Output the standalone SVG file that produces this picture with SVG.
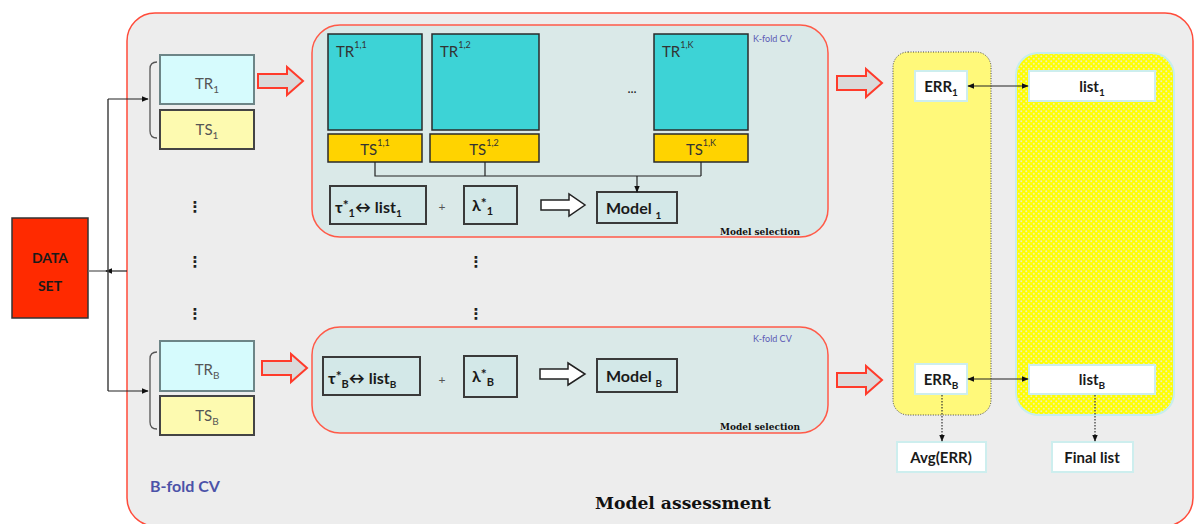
<svg xmlns="http://www.w3.org/2000/svg" width="1194" height="524" viewBox="0 0 1194 524">
<defs>
<style>
.t{font-family:Lato,"Open Sans","DejaVu Sans",sans-serif;}
.b{font-family:Lato,"Open Sans","DejaVu Sans",sans-serif;font-weight:bold;fill:#1a1a1a;}
.dots{font-family:"DejaVu Sans",sans-serif;font-weight:bold;font-size:15px;fill:#222;text-anchor:middle;}
.tr{fill:#d6fbfd;stroke:#6d8587;stroke-width:2;}
.ts{fill:#fdfab0;stroke:#444;stroke-width:2;}
.kt{fill:#3dd3d6;stroke:#2a2a2a;stroke-width:1.5;}
.ks{fill:#ffd300;stroke:#2a2a2a;stroke-width:1.5;}
.inner{fill:#dae9e8;stroke:#ff5a48;stroke-width:1.5;}
.sel{fill:#d3e8e8;stroke:#3a3a3a;stroke-width:2;}
.red{fill:#dadada;stroke:#ff3b2b;stroke-width:2;}
.hol{fill:#fff;stroke:#222;stroke-width:1.5;}
.wb{fill:#fff;stroke:#cdeeee;stroke-width:2;}
.ln{fill:none;stroke:#222;stroke-width:1.2;}
.kf{font-family:Lato,"Open Sans",sans-serif;font-size:9px;fill:#5a5ab4;}
.ms{font-family:"DejaVu Serif",serif;font-weight:bold;font-size:9px;fill:#111;text-anchor:end;}
</style>
<marker id="ah" viewBox="0 0 10 10" refX="9" refY="5" markerWidth="6" markerHeight="6" orient="auto-start-reverse">
<path d="M0,1 L10,5 L0,9 Z" fill="#111"/>
</marker>
<pattern id="pat" width="5" height="5" patternUnits="userSpaceOnUse">
<rect width="5" height="5" fill="#ffff00"/>
<circle cx="1.25" cy="1.25" r="1" fill="#eeeeb8"/>
<circle cx="3.75" cy="3.75" r="1" fill="#eeeeb8"/>
</pattern>
</defs>

<g id="outer">
<rect x="127" y="13" width="1066" height="513" rx="28" fill="#ededed" stroke="#ff4b3a" stroke-width="1.5"/>
<text x="150" y="492" class="t" font-size="16" font-weight="bold" fill="#4b52a8">B-fold CV</text>
<text x="595" y="509" font-family="DejaVu Serif,serif" font-weight="bold" font-size="16" fill="#111" textLength="176" lengthAdjust="spacingAndGlyphs">Model assessment</text>
</g>

<g id="dataset">
<rect x="12" y="218" width="76" height="100" fill="#ff2a00" stroke="#333" stroke-width="1.5"/>
<text x="50" y="263" class="b" font-size="14" text-anchor="middle">DATA</text>
<text x="50" y="291" class="b" font-size="14" text-anchor="middle">SET</text>
</g>

<g id="split1">
<rect x="160" y="55" width="94" height="49" class="tr"/>
<text x="207" y="89" class="t" font-size="15" fill="#555" text-anchor="middle">TR<tspan font-size="10" dy="4">1</tspan></text>
<rect x="160" y="110" width="94" height="39" class="ts"/>
<text x="207" y="135" class="t" font-size="15" fill="#555" text-anchor="middle">TS<tspan font-size="10" dy="4">1</tspan></text>
</g>

<g id="splitB">
<rect x="160" y="341" width="94" height="50" class="tr"/>
<text x="207" y="375" class="t" font-size="15" fill="#555" text-anchor="middle">TR<tspan font-size="10" dy="4">B</tspan></text>
<rect x="160" y="396" width="94" height="39" class="ts"/>
<text x="207" y="421" class="t" font-size="15" fill="#555" text-anchor="middle">TS<tspan font-size="10" dy="4">B</tspan></text>
</g>

<g id="vdots">
<text x="195" y="212" class="dots">⋮</text>
<text x="195" y="267" class="dots">⋮</text>
<text x="195" y="319" class="dots">⋮</text>
<text x="476" y="267" class="dots">⋮</text>
<text x="476" y="319" class="dots">⋮</text>
<text x="935" y="212" class="dots">⋮</text>
<text x="935" y="267" class="dots">⋮</text>
<text x="935" y="319" class="dots">⋮</text>
<text x="1089" y="212" class="dots">⋮</text>
<text x="1089" y="267" class="dots">⋮</text>
<text x="1089" y="319" class="dots">⋮</text>
</g>

<g id="kfold1">
<rect x="312" y="25" width="516" height="212" rx="28" class="inner"/>
<text x="753" y="42" class="kf">K-fold CV</text>
<rect x="328" y="34" width="94" height="96" class="kt"/>
<text x="336" y="57" class="t" font-size="15" fill="#333">TR<tspan font-size="9" dy="-9">1,1</tspan></text>
<rect x="432" y="34" width="107" height="96" class="kt"/>
<text x="440" y="57" class="t" font-size="15" fill="#333">TR<tspan font-size="9" dy="-9">1,2</tspan></text>
<text x="632" y="93" class="t" font-size="13" fill="#222" text-anchor="middle">...</text>
<rect x="654" y="34" width="94" height="96" class="kt"/>
<text x="662" y="57" class="t" font-size="15" fill="#333">TR<tspan font-size="9" dy="-9">1,K</tspan></text>
<rect x="328" y="134" width="94" height="28" class="ks"/>
<text x="375" y="155" class="t" font-size="15" fill="#333" text-anchor="middle">TS<tspan font-size="9" dy="-9">1,1</tspan></text>
<rect x="430" y="134" width="109" height="28" class="ks"/>
<text x="484" y="155" class="t" font-size="15" fill="#333" text-anchor="middle">TS<tspan font-size="9" dy="-9">1,2</tspan></text>
<rect x="654" y="134" width="94" height="28" class="ks"/>
<text x="701" y="155" class="t" font-size="15" fill="#333" text-anchor="middle">TS<tspan font-size="9" dy="-9">1,K</tspan></text>
<rect x="330" y="186" width="96" height="38" class="sel"/>
<text x="335" y="213" class="b" font-size="16">τ<tspan font-size="14" dy="-3">*</tspan><tspan font-size="11" dy="7">1</tspan><tspan dy="-4">↔ list</tspan><tspan font-size="10" dy="4">1</tspan></text>
<text x="442" y="211" class="t" font-size="12" fill="#555" text-anchor="middle">+</text>
<rect x="464" y="186" width="53" height="38" class="sel"/>
<text x="472" y="211" class="b" font-size="16">λ<tspan font-size="14" dy="-3">*</tspan><tspan font-size="11" dy="7">1</tspan></text>
<path class="hol" d="M541,200 H569 V194 L585,205 L569,216 V210 H541 Z"/>
<rect x="597" y="192" width="80" height="31" class="sel"/>
<text x="606" y="214" class="b" font-size="16">Model <tspan font-size="10" dy="5">1</tspan></text>
<text x="800" y="235" class="ms">Model selection</text>
</g>

<g id="kfoldB">
<rect x="312" y="327" width="516" height="106" rx="28" class="inner"/>
<text x="753" y="342" class="kf">K-fold CV</text>
<rect x="323" y="357" width="97" height="38" class="sel"/>
<text x="328" y="384" class="b" font-size="16">τ<tspan font-size="14" dy="-3">*</tspan><tspan font-size="11" dy="7">B</tspan><tspan dy="-4">↔ list</tspan><tspan font-size="10" dy="4">B</tspan></text>
<text x="442" y="384" class="t" font-size="12" fill="#555" text-anchor="middle">+</text>
<rect x="464" y="356" width="53" height="41" class="sel"/>
<text x="472" y="382" class="b" font-size="16">λ<tspan font-size="14" dy="-3">*</tspan><tspan font-size="11" dy="7">B</tspan></text>
<path class="hol" d="M540,369 H568 V363 L585,374 L568,385 V379 H540 Z"/>
<rect x="597" y="359" width="80" height="33" class="sel"/>
<text x="606" y="382" class="b" font-size="16">Model <tspan font-size="10" dy="5">B</tspan></text>
<text x="800" y="430" class="ms">Model selection</text>
</g>

<g id="errcol">
<rect x="893" y="52" width="98" height="363" rx="15" fill="#fff97a" stroke="#444" stroke-width="1" stroke-dasharray="1,1.5"/>
<rect x="915" y="71" width="52" height="30" class="wb"/>
<text x="941" y="92" class="b" font-size="15" text-anchor="middle">ERR<tspan font-size="10" dy="4">1</tspan></text>
<rect x="915" y="364" width="52" height="30" class="wb"/>
<text x="941" y="385" class="b" font-size="15" text-anchor="middle">ERR<tspan font-size="10" dy="4">B</tspan></text>
</g>

<g id="listcol">
<rect x="1016" y="53" width="158" height="362" rx="22" fill="url(#pat)" stroke="#c6eeee" stroke-width="2"/>
<rect x="1029" y="71" width="126" height="30" class="wb"/>
<text x="1092" y="92" class="b" font-size="15" text-anchor="middle">list<tspan font-size="10" dy="4">1</tspan></text>
<rect x="1029" y="365" width="126" height="29" class="wb"/>
<text x="1092" y="385" class="b" font-size="15" text-anchor="middle">list<tspan font-size="10" dy="4">B</tspan></text>
</g>

<g id="avg">
<rect x="897" y="442" width="89" height="30" class="wb"/>
<text x="941" y="463" class="b" font-size="15" text-anchor="middle">Avg(ERR)</text>
</g>

<g id="final">
<rect x="1052" y="442" width="81" height="30" class="wb"/>
<text x="1092" y="463" class="b" font-size="15" text-anchor="middle">Final list</text>
</g>

<g id="connectors">
<line x1="88" y1="271" x2="108" y2="271" stroke="#777" stroke-width="1.5"/>
<line x1="127" y1="271" x2="106" y2="271" class="ln" marker-end="url(#ah)"/>
<line x1="108" y1="99" x2="108" y2="391" stroke="#444" stroke-width="1.5"/>
<line x1="108" y1="99" x2="148" y2="99" class="ln" marker-end="url(#ah)"/>
<line x1="108" y1="391" x2="148" y2="391" class="ln" marker-end="url(#ah)"/>
<path d="M157,62 Q150,62 150,69 L150,131 Q150,138 157,138" fill="none" stroke="#555" stroke-width="1.3"/>
<path d="M157,352 Q150,352 150,359 L150,422 Q150,429 157,429" fill="none" stroke="#555" stroke-width="1.3"/>
<path d="M375,162 V176 H701 M485,162 V176 M701,162 V176" class="ln"/>
<line x1="637" y1="176" x2="637" y2="192" class="ln" marker-end="url(#ah)"/>
<line x1="968" y1="86" x2="1028" y2="86" class="ln" marker-start="url(#ah)" marker-end="url(#ah)"/>
<line x1="968" y1="379" x2="1028" y2="379" class="ln" marker-start="url(#ah)" marker-end="url(#ah)"/>
<line x1="942" y1="395" x2="942" y2="441" stroke="#333" stroke-width="1.2" stroke-dasharray="1.5,1.5" marker-end="url(#ah)"/>
<line x1="1095" y1="395" x2="1095" y2="441" stroke="#333" stroke-width="1.2" stroke-dasharray="1.5,1.5" marker-end="url(#ah)"/>
<path class="red" d="M258,74 H287 V67 L303,81 L287,95 V88 H258 Z"/>
<path class="red" d="M262,361 H291 V354 L307,368 L291,382 V375 H262 Z"/>
<path class="red" d="M837,76 H866 V69 L882,83 L866,97 V90 H837 Z"/>
<path class="red" d="M837,373 H866 V366 L882,380 L866,394 V387 H837 Z"/>
</g>
</svg>
